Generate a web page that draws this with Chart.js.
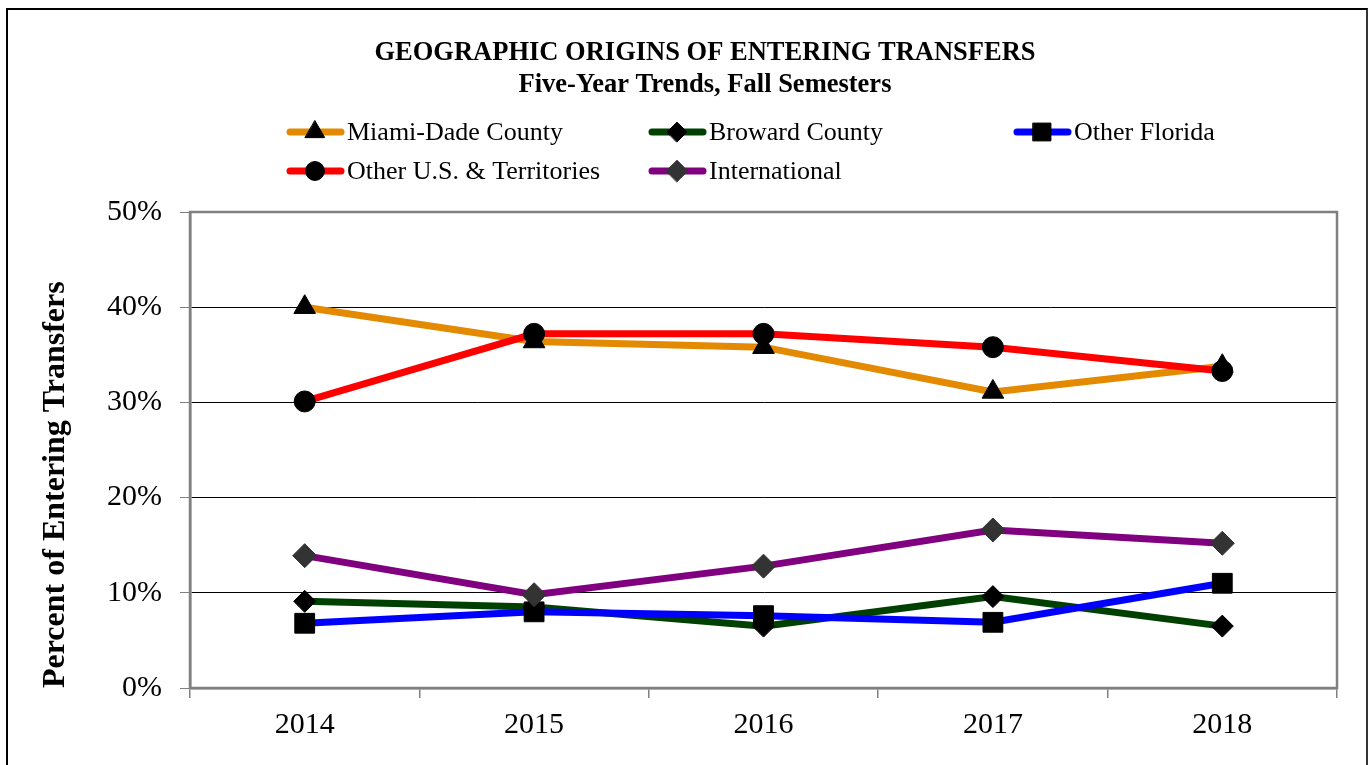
<!DOCTYPE html>
<html>
<head>
<meta charset="utf-8">
<script src="https://cdn.jsdelivr.net/npm/chart.js@4.4.0/dist/chart.umd.min.js"></script>
<style>
  body { margin: 0; background: #fff; }
  #wrap { position: relative; width: 1371px; height: 765px; }
  #frame {
    position: absolute; left: 6px; top: 8px; width: 1358px; height: 800px;
    border-left: 2px solid #000; border-top: 2px solid #000; border-right: 2px solid #333;
  }
  canvas { position: absolute; left: 0; top: 0; }
</style>
</head>
<body>
<div id="wrap">
  <div id="frame"></div>
  <canvas id="transferChart" width="1371" height="765"></canvas>
</div>
<script>
// chart data
const years = ['2014', '2015', '2016', '2017', '2018'];
const miamiDade = [40.0, 36.4, 35.8, 31.1, 33.8];
const broward = [9.1, 8.5, 6.5, 9.6, 6.5];
const otherFlorida = [6.8, 8.0, 7.6, 6.9, 11.0];
const otherUS = [30.1, 37.2, 37.2, 35.8, 33.3];
const international = [13.9, 9.8, 12.8, 16.6, 15.2];
const yTicks = [0, 10, 20, 30, 40, 50];

const serif = '"Times New Roman", "Liberation Serif", serif';

const series = [
  { label: 'Miami-Dade County', data: miamiDade, color: '#E38A00', marker: 'triangle', markerColor: '#000', r: 12.5 },
  { label: 'Broward County', data: broward, color: '#004000', marker: 'rectRot', markerColor: '#000', r: 11 },
  { label: 'Other Florida', data: otherFlorida, color: '#0000FF', marker: 'rect', markerColor: '#000', r: 14 },
  { label: 'Other U.S. & Territories', data: otherUS, color: '#FF0000', marker: 'circle', markerColor: '#000', r: 10.5 },
  { label: 'International', data: international, color: '#800080', marker: 'rectRot', markerColor: '#333333', r: 12 }
];

// title + legend drawn by hand so they sit where the original has them
const headerPlugin = {
  id: 'header',
  afterDraw(chart) {
    const ctx = chart.ctx;
    ctx.save();
    ctx.fillStyle = '#000';
    ctx.textAlign = 'center';
    ctx.textBaseline = 'middle';
    ctx.font = 'bold 26.5px ' + serif;
    ctx.fillText('GEOGRAPHIC ORIGINS OF ENTERING TRANSFERS', 705, 53);
    ctx.fillText('Five-Year Trends, Fall Semesters', 705, 85);

    const spots = [[287, 132], [649, 132], [1014, 132], [287, 171], [649, 171]];
    ctx.font = '26px ' + serif;
    ctx.textAlign = 'left';
    series.forEach((s, i) => {
      const [x, y] = spots[i];
      ctx.strokeStyle = s.color;
      ctx.lineWidth = 7;
      ctx.lineCap = 'round';
      ctx.beginPath();
      ctx.moveTo(x + 3, y);
      ctx.lineTo(x + 54, y);
      ctx.stroke();
      ctx.fillStyle = s.markerColor;
      ctx.strokeStyle = s.markerColor;
      ctx.lineWidth = 1;
      Chart.helpers.drawPoint(ctx, { pointStyle: s.marker, radius: s.r * 0.9, borderWidth: 1, rotation: 0 }, x + 28, y);
      ctx.fillStyle = '#000';
      ctx.fillText(s.label, x + 60, y + 1);
    });
    ctx.restore();
  },
  beforeDatasetsDraw(chart) {
    const a = chart.chartArea;
    const ctx = chart.ctx;
    ctx.save();
    ctx.strokeStyle = '#808080';
    ctx.lineWidth = 2.5;
    ctx.strokeRect(a.left, a.top, a.right - a.left, a.bottom - a.top);
    ctx.restore();
  }
};

// later series drawn on top, like the original
const datasets = series.map((s, i) => ({
  label: s.label,
  data: s.data,
  borderColor: s.color,
  borderWidth: 7,
  tension: 0,
  pointStyle: s.marker,
  pointRadius: s.r,
  pointBackgroundColor: s.markerColor,
  pointBorderColor: s.markerColor,
  pointBorderWidth: 1,
  order: series.length - i
}));

const ctx = document.getElementById('transferChart').getContext('2d');
new Chart(ctx, {
  type: 'line',
  data: { labels: years, datasets: datasets },
  options: {
    responsive: false,
    animation: false,
    layout: { padding: { top: 212, left: 0, right: 34, bottom: 0 } },
    plugins: {
      legend: { display: false },
      title: { display: false },
      tooltip: { enabled: false }
    },
    scales: {
      x: {
        offset: true,
        grid: { offset: true, drawOnChartArea: false, tickLength: 10, color: '#808080', lineWidth: 1.5 },
        border: { color: '#808080', width: 2.5 },
        ticks: { color: '#000', font: { family: serif, size: 30 }, padding: 9 },
        afterFit(scale) { scale.height = 77; }
      },
      y: {
        min: 0,
        max: 50,
        afterBuildTicks(scale) { scale.ticks = yTicks.map(v => ({ value: v })); },
        grid: { color: '#000', lineWidth: 1, tickLength: 10, tickColor: '#808080' },
        border: { color: '#808080', width: 2.5 },
        ticks: {
          color: '#000',
          font: { family: serif, size: 30 },
          padding: 18,
          callback: v => v + '%'
        },
        title: {
          display: true,
          text: 'Percent of Entering Transfers',
          align: 'start',
          color: '#000',
          font: { family: serif, size: 32, weight: 'bold' },
          padding: { top: 37, bottom: 0 }
        },
        afterFit(scale) { scale.width = 190; }
      }
    }
  },
  plugins: [headerPlugin]
});
</script>
</body>
</html>
